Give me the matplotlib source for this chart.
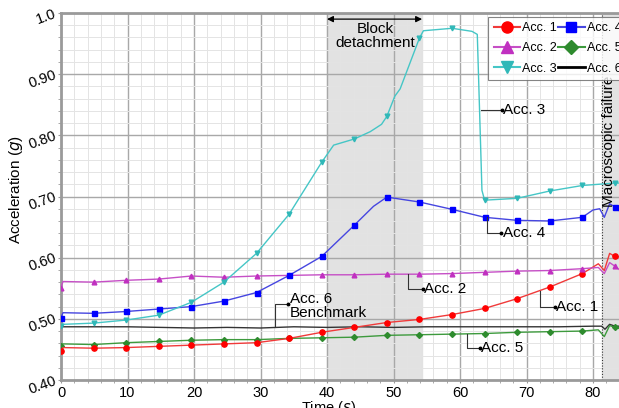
import matplotlib
matplotlib.use("Agg")
import matplotlib.pyplot as plt
from matplotlib.lines import Line2D
from matplotlib.ticker import MultipleLocator, FixedLocator, FixedFormatter
import numpy as np

plt.rcParams['font.family'] = ['Liberation Sans', 'DejaVu Sans']

# marker times (s)
t_mark = [0, 4.9, 9.8, 14.7, 19.6, 24.5, 29.4, 34.3, 39.2, 44.1, 49.0, 53.9,
          58.8, 63.7, 68.6, 73.5, 78.4, 83.3]

t_std = [0, 0.3, 4.9, 9.8, 14.7, 19.6, 24.5, 29.4, 34.3, 39.2, 44.1, 49.0, 53.9,
         58.8, 63.7, 68.6, 73.5, 78.4, 80.8, 81.7, 82.5, 83.3, 84]
acc1 = [0.447, 0.453, 0.452, 0.453, 0.455, 0.457, 0.459, 0.461, 0.468, 0.478, 0.486,
        0.494, 0.499, 0.507, 0.517, 0.533, 0.552, 0.574, 0.590, 0.579, 0.607, 0.602, 0.601]
acc2 = [0.551, 0.561, 0.560, 0.563, 0.565, 0.570, 0.568, 0.570, 0.571, 0.572, 0.572,
        0.573, 0.573, 0.574, 0.576, 0.578, 0.579, 0.582, 0.584, 0.574, 0.592, 0.586, 0.580]
acc5 = [0.455, 0.459, 0.458, 0.461, 0.463, 0.465, 0.466, 0.466, 0.468, 0.469, 0.470,
        0.473, 0.474, 0.475, 0.476, 0.478, 0.479, 0.480, 0.482, 0.471, 0.489, 0.486, 0.484]

t3 = [0, 0.3, 4.9, 9.8, 14.7, 19.6, 24.5, 29.4, 34.3, 39.2, 41.0, 44.1, 46.5, 48.2,
      49.0, 50.2, 51.0, 53.9, 54.5, 58.8, 61.8, 62.6, 63.3, 63.7, 68.6, 73.5, 78.4, 83.3, 84]
acc3 = [0.489, 0.491, 0.493, 0.498, 0.506, 0.527, 0.560, 0.607, 0.671, 0.756, 0.784,
        0.794, 0.806, 0.818, 0.831, 0.864, 0.876, 0.959, 0.971, 0.975, 0.970, 0.965,
        0.710, 0.694, 0.697, 0.709, 0.718, 0.722, 0.722]

t4 = [0, 0.3, 4.9, 9.8, 14.7, 19.6, 24.5, 29.4, 34.3, 39.2, 44.1, 47.0, 49.0, 53.9,
      58.8, 63.7, 68.6, 73.5, 78.4, 80.0, 81.0, 81.7, 82.5, 83.3, 84]
acc4 = [0.502, 0.510, 0.509, 0.512, 0.516, 0.520, 0.529, 0.543, 0.571, 0.602, 0.653,
        0.684, 0.699, 0.691, 0.679, 0.666, 0.661, 0.660, 0.666, 0.678, 0.680, 0.666,
        0.688, 0.683, 0.676]

t6 = [0, 0.3, 5, 10, 15, 20, 25, 30, 35, 40, 45, 50, 55, 60, 65, 70, 75, 80, 81.3,
      81.8, 82.5, 83.3, 84]
acc6 = [0.489, 0.487, 0.487, 0.487, 0.486, 0.485, 0.486, 0.485, 0.487, 0.486, 0.487,
        0.486, 0.487, 0.487, 0.487, 0.487, 0.487, 0.488, 0.488, 0.483, 0.491, 0.488, 0.488]

xtick_vals = [0, 10, 20, 30, 40, 50, 60, 70, 80]
ytick_vals = [0.40, 0.50, 0.60, 0.70, 0.80, 0.90, 1.0]
ytick_labels = ['0.40', '0.50', '0.60', '0.70', '0.80', '0.90', '1.0']

fig = plt.figure(figsize=(6.19, 4.08), dpi=100)
ax = fig.add_axes([61/619, 28/408, 598.5/619, 367/408])
ax.set_xlim(0, 90)
ax.set_ylim(0.40, 1.0)

# shaded zones
ax.axvspan(40, 54.3, color='#e2e2e2', zorder=0)
ax.axvspan(81.3, 90, color='#e2e2e2', zorder=0)
ax.axvline(81.3, color='#333333', lw=0.8, ls=(0, (1, 1.5)), zorder=1)

# grid
ax.xaxis.set_major_locator(FixedLocator(xtick_vals))
ax.xaxis.set_minor_locator(MultipleLocator(2))
ax.yaxis.set_major_locator(FixedLocator(ytick_vals))
ax.yaxis.set_major_formatter(FixedFormatter(ytick_labels))
ax.yaxis.set_minor_locator(MultipleLocator(0.02))
ax.grid(which='major', color='#a8a8a8', lw=1.0, zorder=0.5)
ax.grid(which='minor', color='#e4e4e4', lw=0.7, zorder=0.4)
ax.set_axisbelow(True)
for s in ax.spines.values():
    s.set_color('#9a9a9a')
    s.set_linewidth(2)
ax.tick_params(which='both', direction='out', color='#9a9a9a')
ax.tick_params(which='major', length=2, labelsize=10.5, pad=2)
ax.tick_params(which='minor', length=2)
for lab in ax.get_yticklabels():
    lab.set_rotation(20)
    lab.set_rotation_mode('anchor')
    lab.set_ha('right')
    lab.set_va('center')

def marks(t):
    return [i for i, v in enumerate(t) if any(abs(v - m) < 1e-6 for m in t_mark)]

ms = 3.4
lw = 1.0
ax.plot(t6, acc6, color='#333333', lw=lw, zorder=3)
ax.plot(t_std, acc5, color='#3d9a3d', lw=lw, marker='D', ms=ms-0.4, mfc='#2e8b2e',
        mec='#2e8b2e', markevery=marks(t_std), zorder=3)
ax.plot(t_std, acc1, color='#f03a3a', lw=lw, marker='o', ms=ms+0.4, mfc='#ff0000',
        mec='#ff0000', markevery=marks(t_std), zorder=3)
ax.plot(t_std, acc2, color='#c64fc6', lw=lw, marker='^', ms=ms, mfc='#c030c0',
        mec='#c030c0', markevery=marks(t_std), zorder=3)
ax.plot(t4, acc4, color='#4646e0', lw=lw, marker='s', ms=ms+0.2, mfc='#0000ff',
        mec='#0000ff', markevery=marks(t4), zorder=3)
ax.plot(t3, acc3, color='#45c6c6', lw=lw, marker='v', ms=ms, mfc='#30b8b8',
        mec='#30b8b8', markevery=marks(t3), zorder=3)

# call-outs
lc = '#333333'
def callout(pts, text, tx, ty):
    xs = [p[0] for p in pts]
    ys = [p[1] for p in pts]
    ax.plot(xs, ys, color=lc, lw=0.8, zorder=4)
    ax.plot(xs[-1], ys[-1], 'o', color='black', ms=1.8, zorder=4)
    ax.text(tx, ty, text, fontsize=11, ha='left', va='center', zorder=5,
            linespacing=1.0)

callout([(63.2, 0.841), (66.3, 0.841)], 'Acc. 3', 66.5, 0.841)
callout([(64.0, 0.666), (64.0, 0.641), (66.2, 0.641)], 'Acc. 4', 66.4, 0.641)
callout([(52.2, 0.573), (52.2, 0.548), (54.4, 0.548)], 'Acc. 2', 54.6, 0.548)
callout([(72.0, 0.546), (72.0, 0.520), (74.3, 0.520)], 'Acc. 1', 74.5, 0.520)
callout([(61.0, 0.475), (61.0, 0.452), (63.0, 0.452)], 'Acc. 5', 63.2, 0.452)
callout([(32.2, 0.487), (32.2, 0.524), (34.2, 0.524)], 'Acc. 6\nBenchmark', 34.4, 0.521)

# block detachment
ax.annotate('', xy=(40, 0.990), xytext=(54.3, 0.990),
            arrowprops=dict(arrowstyle='<|-|>', color='black', lw=0.9,
                            mutation_scale=9, shrinkA=0, shrinkB=0), zorder=5)
ax.text(47.2, 0.963, 'Block\ndetachment', fontsize=11, ha='center', va='center',
        linespacing=1.0, zorder=5)
ax.text(82.4, 0.79, 'Macroscopic failure', fontsize=11, rotation=90,
        ha='center', va='center', zorder=5)

ax.set_ylabel('Acceleration ($g$)', fontsize=11)
ax.set_xlabel('Time ($s$)', fontsize=10.5)
ax.xaxis.set_label_coords(40.2 / 90, -0.051)
ax.yaxis.set_label_coords(-0.060, 0.52)

handles = [
    Line2D([], [], color='#f03a3a', marker='o', ms=8, mfc='#ff0000', mec='#ff0000', lw=1.5),
    Line2D([], [], color='#c64fc6', marker='^', ms=9, mfc='#c030c0', mec='#c030c0', lw=1.5),
    Line2D([], [], color='#45c6c6', marker='v', ms=9, mfc='#30b8b8', mec='#30b8b8', lw=1.5),
    Line2D([], [], color='#4646e0', marker='s', ms=7, mfc='#0000ff', mec='#0000ff', lw=1.5),
    Line2D([], [], color='#3d9a3d', marker='D', ms=7, mfc='#2e8b2e', mec='#2e8b2e', lw=1.5),
    Line2D([], [], color='black', lw=2),
]
labels = ['Acc. 1', 'Acc. 2', 'Acc. 3', 'Acc. 4', 'Acc. 5', 'Acc. 6']
leg = ax.legend(handles, labels, ncol=2, loc='upper left',
                bbox_to_anchor=(64.2, 0.994), bbox_transform=ax.transData,
                fontsize=9, frameon=True, fancybox=False, handlelength=2.1,
                handletextpad=0.2, columnspacing=0.1, borderpad=0.45,
                labelspacing=0.65, borderaxespad=0)
leg.get_frame().set_edgecolor('#666666')
leg.get_frame().set_linewidth(0.8)
leg.set_zorder(6)

fig.savefig('out.png', dpi=100)
